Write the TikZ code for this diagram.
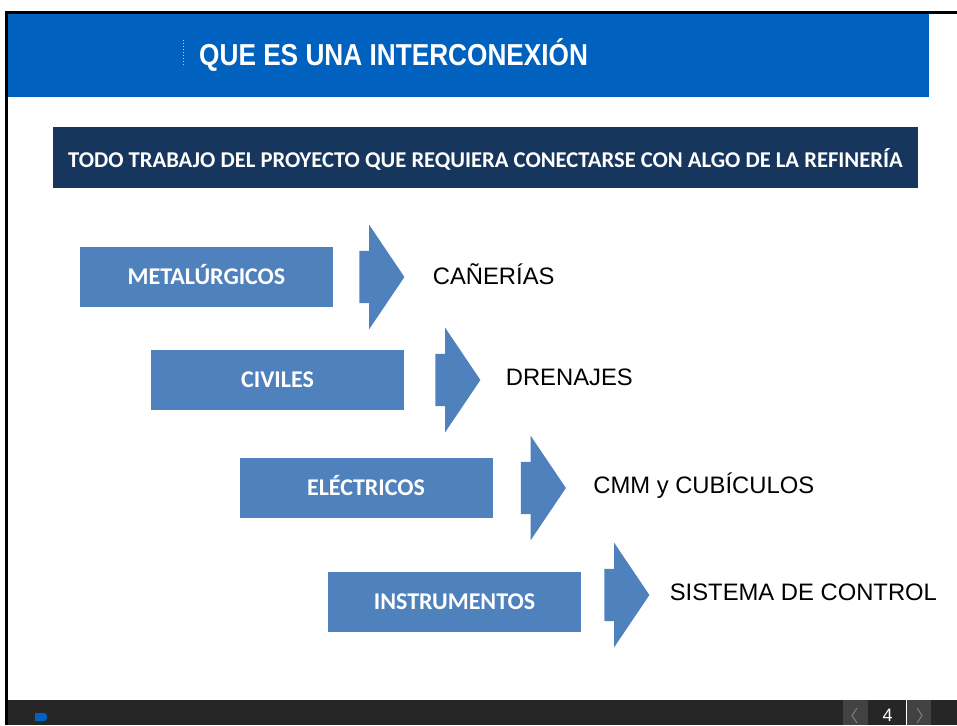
\documentclass[tikz,border=0pt]{standalone}
\usepackage{fontspec}
\setmainfont{Liberation Sans}
\newfontfamily\calibri{Carlito}
\newfontfamily\titlefont[FakeStretch=0.865]{Liberation Sans}
\usetikzlibrary{positioning,shapes.arrows}
\definecolor{headblue}{RGB}{0,97,190}
\definecolor{navy}{RGB}{23,54,93}
\definecolor{steel}{RGB}{79,129,189}
\definecolor{barbg}{RGB}{38,38,38}
\definecolor{navbox}{RGB}{66,66,66}
\definecolor{navtip}{RGB}{125,125,125}
\tikzstyle{block} = [fill=steel, rectangle, text=white, inner sep=0pt,
    minimum height=60pt, minimum width=253pt, text height=15.5pt, text depth=0pt,
    font=\calibri\bfseries\fontsize{24}{27}\selectfont]
\tikzstyle{bigarrow} = [single arrow, fill=steel, inner xsep=0pt, inner ysep=26pt,
    single arrow head extend=26pt, single arrow tip angle=112, minimum height=45pt]
\tikzstyle{result} = [inner sep=0pt, yshift=3pt, text height=17pt, text depth=0pt,
    font=\fontsize{23.8}{28}\selectfont]

\begin{document}
\begin{tikzpicture}[x=1pt,y=-1pt]
  \useasboundingbox (0,0) rectangle (957,725);
  % frame and header
  \fill (5,11) rectangle (957,14);
  \fill (5,11) rectangle (8,725);
  \fill[headblue] (8,14) rectangle (929,97);
  \draw[white!70!headblue, dotted, line width=1pt] (183,40) -- (183,67);
  \node[anchor=base west, inner sep=0pt, text=white,
    font=\titlefont\bfseries\fontsize{30.3}{34}\selectfont] (title) at (199,65) {QUE ES UNA INTERCONEXIÓN};
  \node[fill=navy, text=white, inner sep=0pt, minimum width=865pt, minimum height=61pt,
    text height=19.5pt, text depth=0pt, font=\calibri\bfseries\fontsize{22.6}{26}\selectfont]
    (banner) at (485.5,157.5) {TODO TRABAJO DEL PROYECTO QUE REQUIERA CONECTARSE CON ALGO DE LA REFINERÍA};
  % areas
  \node[block] (met) at (206.5,277) {METALÚRGICOS};
  \node[block] (civ) at (277.5,380) {CIVILES};
  \node[block] (ele) at (366,488) {ELÉCTRICOS};
  \node[block] (ins) at (454.5,602) {INSTRUMENTOS};
  \node[bigarrow, right=26pt of met] (a1) {};
  \node[bigarrow, right=31pt of civ] (a2) {};
  \node[bigarrow, right=28pt of ele] (a3) {};
  \node[bigarrow, right=23pt of ins, yshift=7pt] (a4) {};
  \node[result, right=28pt of a1, yshift=-2pt] (r1) {CAÑERÍAS};
  \node[result, right=25pt of a2] (r2) {DRENAJES};
  \node[result, right=27pt of a3] (r3) {CMM y CUBÍCULOS};
  \node[result, right=20pt of a4] (r4) {SISTEMA DE CONTROL};
  % footer
  \fill[barbg] (8,700) rectangle (957,725);
  \fill[headblue] (35,713) -- (44,713) [rounded corners=3pt] -- (47,713) -- (47,721) [sharp corners] -- (35,721) -- cycle;
  \fill[navbox] (843,700) rectangle (868,725);
  \fill[navbox] (907,700) rectangle (931,725);
  \draw[white] (906,700) -- (906,725);
  \draw[navtip, line width=1pt] (857,708) -- (852,715.5) -- (857,723);
  \draw[navtip, line width=1pt] (917,708) -- (922,715.5) -- (917,723);
  \node[text=white, inner sep=0pt, font=\fontsize{18}{20}\selectfont] (page) at (887.5,715.5) {4};
\end{tikzpicture}
\end{document}
